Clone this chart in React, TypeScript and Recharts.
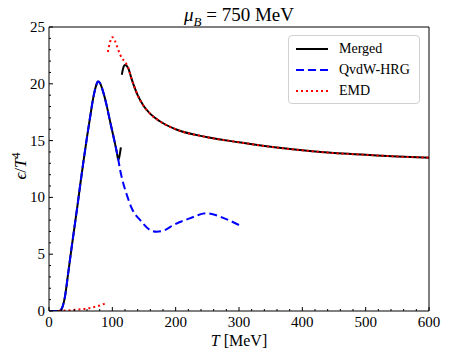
import { LineChart, Line, XAxis, YAxis } from "recharts";

// T in MeV, epsilon/T^4
const mergedLowT = [0, 10, 16, 20, 25, 30, 35, 40, 45, 50, 55, 60, 65, 70, 75, 77, 80, 86, 91, 96, 100, 104, 107, 109.5, 111.5, 113.5];
const mergedLowE = [0, 0, 0, 0.2, 1.2, 3.2, 5.3, 7.3, 9.3, 11.4, 13.4, 15.3, 17.1, 18.8, 19.95, 20.2, 20.1, 19.2, 18.1, 16.8, 15.8, 14.8, 14.0, 13.3, 13.7, 14.4];

const mergedHighT = [115, 117, 120, 125, 130, 140, 150, 160, 175, 200, 250, 300, 350, 400, 450, 500, 550, 600];
const mergedHighE = [20.8, 21.35, 21.65, 21.4, 20.5, 19.0, 18.0, 17.35, 16.7, 16.0, 15.3, 14.85, 14.45, 14.15, 13.9, 13.75, 13.6, 13.5];

const hrgT = [0, 10, 16, 20, 25, 30, 35, 40, 45, 50, 55, 60, 65, 70, 75, 77, 80, 86, 91, 96, 100, 104, 107, 109.5, 112, 117, 123, 131, 144, 159, 170, 182, 196, 222, 249, 275, 300];
const hrgE = [0, 0, 0, 0.2, 1.2, 3.2, 5.3, 7.3, 9.3, 11.4, 13.4, 15.3, 17.1, 18.8, 19.95, 20.2, 20.1, 19.2, 18.1, 16.8, 15.8, 14.8, 14.0, 13.3, 12.5, 11.3, 10.2, 9.0, 8.0, 7.15, 6.98, 7.1, 7.55, 8.15, 8.6, 8.2, 7.57];

const emdLowT = [15, 20, 30, 40, 50, 60, 70, 80, 91];
const emdLowE = [0, 0.02, 0.05, 0.1, 0.15, 0.22, 0.33, 0.48, 0.72];

const emdHighT = [93, 96, 100, 104, 108, 112, 116, 120, 125, 130, 140, 150, 160, 175, 200, 250, 300, 350, 400, 450, 500, 550, 600];
const emdHighE = [22.8, 23.6, 24.1, 23.8, 23.2, 22.6, 22.2, 21.95, 21.4, 20.5, 19.0, 18.0, 17.35, 16.7, 16.0, 15.3, 14.85, 14.45, 14.15, 13.9, 13.75, 13.6, 13.5];

const xTicks = [0, 20, 40, 60, 80, 100, 120, 140, 160, 180, 200, 220, 240, 260, 280, 300, 320, 340, 360, 380, 400, 420, 440, 460, 480, 500, 520, 540, 560, 580, 600];
const yTicks = [0, 1, 2, 3, 4, 5, 6, 7, 8, 9, 10, 11, 12, 13, 14, 15, 16, 17, 18, 19, 20, 21, 22, 23, 24, 25];

const toPts = (t: number[], e: number[]) => t.map((T, i) => ({ T, v: e[i] }));

const FONT = "'Liberation Serif', 'DejaVu Serif', serif";
const W = 441;
const H = 342;
const PL = 41;
const PR = 421;
const PT = 19;
const PB = 303;

const BottomTick = (p: any) => {
  const major = p.payload.value % 100 === 0;
  return (
    <g>
      <line x1={p.x} x2={p.x} y1={PB} y2={PB - (major ? 4 : 2)} stroke="#000" />
      {major && (
        <text x={p.x} y={PB + 16} textAnchor="middle" fontSize={15} fontFamily={FONT} fill="#000">
          {p.payload.value}
        </text>
      )}
    </g>
  );
};

const TopTick = (p: any) => {
  const major = p.payload.value % 100 === 0;
  return <line x1={p.x} x2={p.x} y1={PT} y2={PT + (major ? 4 : 2)} stroke="#000" />;
};

const LeftTick = (p: any) => {
  const major = p.payload.value % 5 === 0;
  return (
    <g>
      <line x1={PL} x2={PL + (major ? 4 : 2)} y1={p.y} y2={p.y} stroke="#000" />
      {major && (
        <text x={PL - 4} y={p.y + 5} textAnchor="end" fontSize={15} fontFamily={FONT} fill="#000">
          {p.payload.value}
        </text>
      )}
    </g>
  );
};

const RightTick = (p: any) => {
  const major = p.payload.value % 5 === 0;
  return <line x1={PR} x2={PR - (major ? 4 : 2)} y1={p.y} y2={p.y} stroke="#000" />;
};

const LegendRow = ({ dash, color, label }: { dash?: string; color: string; label: string }) => (
  <div style={{ display: "flex", alignItems: "center", height: 21 }}>
    <svg width={34} height={6} style={{ marginRight: 10 }}>
      <line x1={1} x2={33} y1={3} y2={3} stroke={color} strokeWidth={2} strokeDasharray={dash} />
    </svg>
    <span>{label}</span>
  </div>
);

export default function App() {
  return (
    <div style={{ position: "relative", width: W, height: H, fontFamily: FONT, color: "#000" }}>
      <LineChart width={W} height={H} margin={{ top: 18, right: 19, bottom: 9, left: 11 }}>
        <XAxis
          dataKey="T"
          type="number"
          domain={[0, 600]}
          ticks={xTicks}
          interval={0}
          height={30}
          tickLine={false}
          tick={BottomTick}
          axisLine={{ stroke: "#000" }}
          allowDataOverflow
        />
        <XAxis
          xAxisId="top"
          orientation="top"
          type="number"
          domain={[0, 600]}
          ticks={xTicks}
          interval={0}
          height={1}
          tickLine={false}
          tick={TopTick}
          axisLine={{ stroke: "#000" }}
        />
        <YAxis
          type="number"
          domain={[0, 25]}
          ticks={yTicks}
          interval={0}
          width={30}
          tickLine={false}
          tick={LeftTick}
          axisLine={{ stroke: "#000" }}
          allowDataOverflow
        />
        <YAxis
          yAxisId="right"
          orientation="right"
          type="number"
          domain={[0, 25]}
          ticks={yTicks}
          interval={0}
          width={1}
          tickLine={false}
          tick={RightTick}
          axisLine={{ stroke: "#000" }}
        />
        <Line data={toPts(mergedLowT, mergedLowE)} dataKey="v" type="monotone" stroke="#000" strokeWidth={2} dot={false} isAnimationActive={false} />
        <Line data={toPts(mergedHighT, mergedHighE)} dataKey="v" type="monotone" stroke="#000" strokeWidth={2} dot={false} isAnimationActive={false} />
        <Line data={toPts(hrgT, hrgE)} dataKey="v" type="monotone" stroke="#0000ff" strokeWidth={2} strokeDasharray="8 4" dot={false} isAnimationActive={false} />
        <Line data={toPts(emdLowT, emdLowE)} dataKey="v" type="monotone" stroke="#ff0000" strokeWidth={2} strokeDasharray="2 3" dot={false} isAnimationActive={false} />
        <Line data={toPts(emdHighT, emdHighE)} dataKey="v" type="monotone" stroke="#ff0000" strokeWidth={2} strokeDasharray="2 3" dot={false} isAnimationActive={false} />
      </LineChart>

      <div
        style={{
          position: "absolute",
          left: PL,
          width: PR - PL,
          top: -4,
          lineHeight: "22px",
          textAlign: "center",
          fontSize: 19,
          whiteSpace: "nowrap",
        }}
      >
        <i>μ</i>
        <sub style={{ fontSize: 13, lineHeight: 0 }}>
          <i>B</i>
        </sub>{" "}
        = 750 MeV
      </div>

      <div
        style={{
          position: "absolute",
          left: PL,
          width: PR - PL,
          top: 324,
          lineHeight: "17px",
          textAlign: "center",
          fontSize: 16,
        }}
      >
        <i>T</i> [MeV]
      </div>

      <div
        style={{
          position: "absolute",
          left: 12,
          top: 158,
          transform: "translate(-50%, -50%) rotate(-90deg)",
          fontSize: 17,
          whiteSpace: "nowrap",
        }}
      >
        <i>ϵ</i>/<i>T</i>
        <sup style={{ fontSize: 12 }}>4</sup>
      </div>

      <div
        style={{
          position: "absolute",
          left: 280,
          top: 27,
          width: 132,
          padding: "2px 0 2px 6px",
          border: "1px solid #d0d0d0",
          borderRadius: 4,
          background: "rgba(255,255,255,0.8)",
          fontSize: 14,
          boxSizing: "border-box",
        }}
      >
        <LegendRow color="#000" label="Merged" />
        <LegendRow color="#0000ff" dash="8 4" label="QvdW-HRG" />
        <LegendRow color="#ff0000" dash="2 3" label="EMD" />
      </div>
    </div>
  );
}
